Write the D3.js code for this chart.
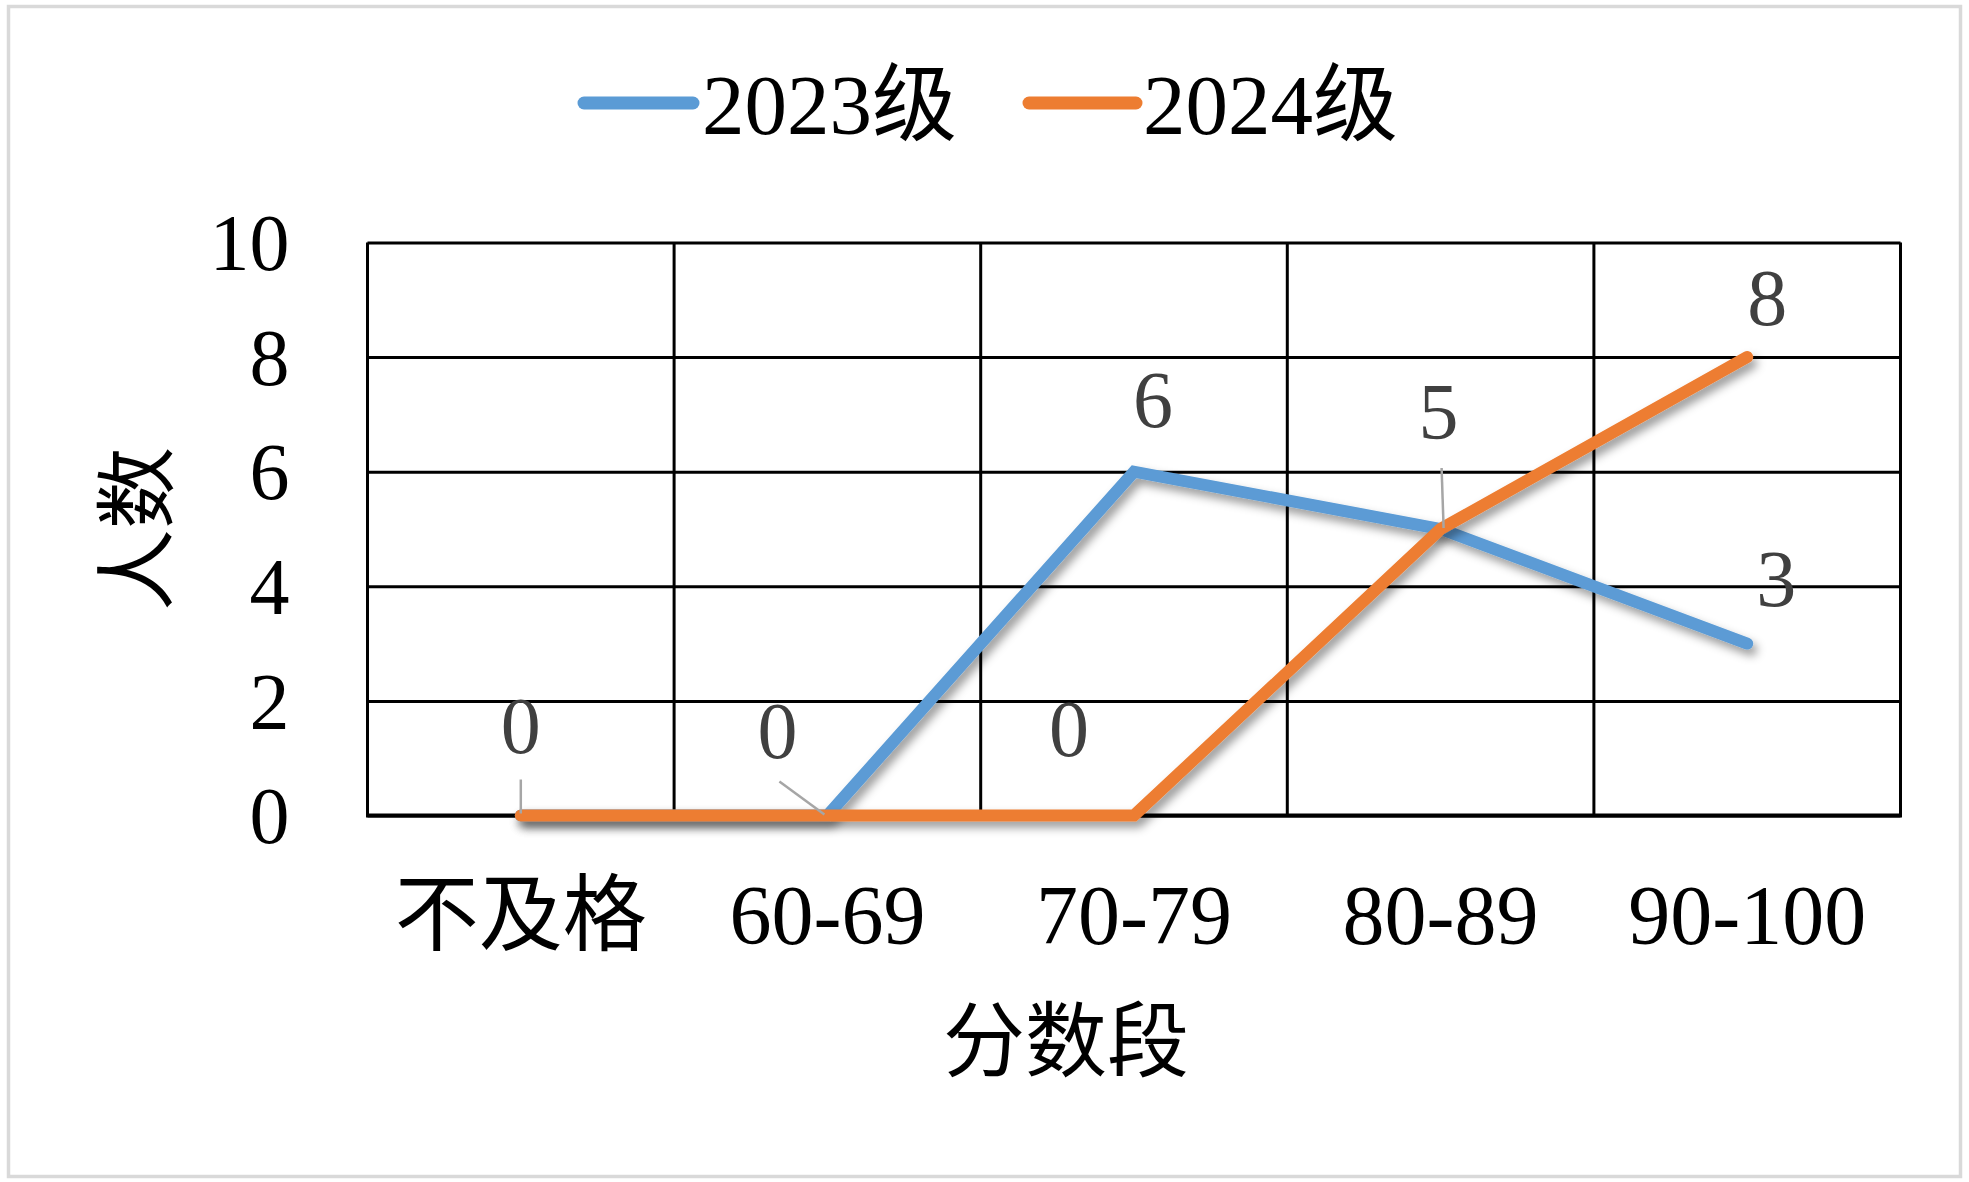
<!DOCTYPE html>
<html lang="zh-CN">
<head>
<meta charset="utf-8">
<script src="https://cdn.jsdelivr.net/npm/d3@7"></script>
<style>
  html, body { margin: 0; padding: 0; background: #ffffff; }
  svg { display: block; }
</style>
</head>
<body>
<svg id="chart" width="1969" height="1182"></svg>
<script>
// ---- data ----
const categories = ["不及格", "60-69", "70-79", "80-89", "90-100"];
const series2023 = [0, 0, 6, 5, 3];
const series2024 = [0, 0, 0, 5, 8];
const seriesNames = ["2023级", "2024级"];
const yTicks = [0, 2, 4, 6, 8, 10];
const xTitle = "分数段";
const yTitle = "人数";
// which data labels are shown: [series index, category index]
const shownLabels = [[1, 0], [0, 1], [1, 2], [0, 2], [0, 3], [1, 4], [0, 4]];

// ---- layout / style ----
const W = 1969, H = 1182;
const plot = { left: 367.5, right: 1900.5, top: 242.5, bottom: 815.5 };
const colors = ["#5B9BD5", "#ED7D31"];
const LATIN = "Liberation Serif";
const CJK = "Noto Sans CJK SC";
const K = 2; // text is drawn at 1/K size and scaled up K times
const labelOffsets = [ // dx, dy of label centre from point; optional leader [x1,y1,x2,y2] relative
  { dx: 0, dy: -90, leader: [0, -36, 0, -2] },
  { dx: -50, dy: -85, leader: [-48, -34, -3, -1] },
  { dx: -65, dy: -87 },
  { dx: 19, dy: -72 },
  { dx: -2, dy: -117, leader: [1, -61, 3, -1] },
  { dx: 20, dy: -59 },
  { dx: 29, dy: -65 }
];

// text at (x,y) of given visual size, mixed Latin/CJK runs with explicit fonts
function label(parent, x, y, str, size, opt = {}) {
  const g = parent.append("g").attr("transform", `translate(${x},${y})${opt.rotate ? ` rotate(${opt.rotate})` : ""} scale(${K})`);
  const t = g.append("text").attr("x", 0).attr("y", 0)
    .attr("text-anchor", opt.anchor || "start")
    .attr("dy", opt.dy || 0)
    .attr("fill", opt.fill || "#000")
    .style("font-size", (size / K) + "px");
  const runs = [];
  for (const ch of String(str)) {
    const cjk = /[\u3000-\u9fff\uff00-\uffef]/.test(ch);
    if (runs.length && runs[runs.length - 1].cjk === cjk) runs[runs.length - 1].s += ch;
    else runs.push({ cjk, s: ch });
  }
  runs.forEach(r => t.append("tspan").style("font-family", r.cjk ? CJK : LATIN).text(r.s));
  return t;
}

const svg = d3.select("#chart");
svg.append("rect").attr("x", 0).attr("y", 0).attr("width", W).attr("height", H).attr("fill", "#fff");
// outer frame
svg.append("rect").attr("x", 8.5).attr("y", 6.5).attr("width", 1952).attr("height", 1170)
  .attr("fill", "none").attr("stroke", "#d9d9d9").attr("stroke-width", 3.5);

const defs = svg.append("defs");
const f = defs.append("filter").attr("id", "shadow").attr("x", "-10%").attr("y", "-10%").attr("width", "130%").attr("height", "130%");
f.append("feDropShadow").attr("dx", 4).attr("dy", 6).attr("stdDeviation", 5)
  .attr("flood-color", "#000").attr("flood-opacity", 0.4);

const x = d3.scaleBand().domain(categories).range([plot.left, plot.right]).padding(0);
const y = d3.scaleLinear().domain([0, 10]).range([plot.bottom, plot.top]);
const cx = c => x(c) + x.bandwidth() / 2;

// horizontal grid (axis) + y tick labels
const yAxis = svg.append("g").attr("transform", `translate(${plot.left},0)`)
  .call(d3.axisLeft(y).tickValues(yTicks).tickSize(-(plot.right - plot.left)).tickFormat(""));
yAxis.select(".domain").remove();
yAxis.selectAll(".tick line").attr("stroke", "#000").attr("stroke-width", 3);
yAxis.selectAll(".tick").each(function(d) {
  label(d3.select(this), -78, 0, d3.format("d")(d), 80, { anchor: "end", dy: "0.34em" });
});

// vertical grid lines at category boundaries
const bounds = d3.range(categories.length + 1).map(i => plot.left + i * x.step());
svg.append("g").selectAll("line").data(bounds).join("line")
  .attr("x1", d => d).attr("x2", d => d).attr("y1", plot.top).attr("y2", plot.bottom)
  .attr("stroke", "#000").attr("stroke-width", 3);
// bottom axis line slightly heavier
svg.append("line").attr("x1", plot.left - 1.5).attr("x2", plot.right + 1.5)
  .attr("y1", plot.bottom).attr("y2", plot.bottom).attr("stroke", "#000").attr("stroke-width", 4);

// x tick labels
const xAxis = svg.append("g").attr("transform", `translate(0,${plot.bottom})`)
  .call(d3.axisBottom(x).tickSize(0).tickFormat(""));
xAxis.select(".domain").remove();
xAxis.selectAll(".tick").each(function(d) {
  label(d3.select(this), 0, 128, d, 84, { anchor: "middle" });
});

// axis titles
label(svg, 1066, 1070, xTitle, 82, { anchor: "middle" });
label(svg, 166, 529, yTitle, 82, { anchor: "middle", rotate: -90 });

// lines
const allSeries = [series2023, series2024];
const line = d3.line().x((d, i) => cx(categories[i])).y(d => y(d));
allSeries.forEach((s, k) => {
  svg.append("path").datum(s).attr("d", line).attr("fill", "none")
    .attr("stroke", colors[k]).attr("stroke-width", 12)
    .attr("stroke-linecap", "round").attr("stroke-linejoin", "miter")
    .attr("filter", "url(#shadow)");
});

// data labels
const lbl = svg.append("g");
shownLabels.forEach(([si, ci], j) => {
  const v = allSeries[si][ci];
  const px = cx(categories[ci]), py = y(v);
  const o = labelOffsets[j];
  if (o.leader) {
    lbl.append("line").attr("x1", px + o.leader[0]).attr("y1", py + o.leader[1])
      .attr("x2", px + o.leader[2]).attr("y2", py + o.leader[3])
      .attr("stroke", "#a6a6a6").attr("stroke-width", 2.5);
  }
  label(lbl, px + o.dx, py + o.dy, v, 80, { anchor: "middle", dy: "0.34em", fill: "#404040" });
});

// legend
const legendItems = [{ x1: 584, x2: 693, tx: 702 }, { x1: 1029, x2: 1136, tx: 1143 }];
legendItems.forEach((it, k) => {
  svg.append("line").attr("x1", it.x1).attr("x2", it.x2).attr("y1", 103).attr("y2", 103)
    .attr("stroke", colors[k]).attr("stroke-width", 13).attr("stroke-linecap", "round");
  label(svg, it.tx, 134, seriesNames[k], 85);
});
</script>
</body>
</html>
